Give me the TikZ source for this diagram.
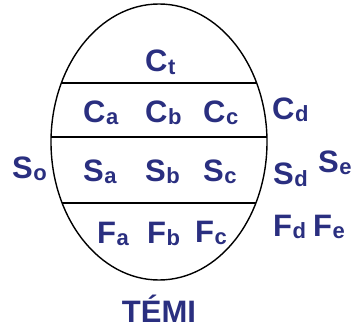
\documentclass[tikz,border=0pt]{standalone}
\usepackage{fontspec}
\setmainfont{Liberation Sans}
\definecolor{navy}{RGB}{42,47,128}
\newcommand\lbsub[2]{#1\kern0.5pt\raisebox{-2.5pt}{\fontsize{22}{22}\selectfont #2}}
\begin{document}
\begin{tikzpicture}[x=1pt,y=-1pt,
  lab/.style={anchor=base west,inner sep=0pt,text=navy,font=\fontsize{31}{31}\selectfont\bfseries},
  sep/.style={line width=1.5pt,black}]
\useasboundingbox (0,0) rectangle (351,329);
\draw[line width=1.4pt] (159,142) ellipse [x radius=108, y radius=138];
\begin{scope}
\clip (159,142) ellipse [x radius=108, y radius=138];
\draw[sep] (40,83) -- (280,83);
\draw[sep] (40,137) -- (280,137);
\draw[sep] (40,203) -- (280,203);
\end{scope}
\node[lab] (ct) at (145,72) {\lbsub{C}{t}};
\node[lab] (ca) at (83,122) {\lbsub{C}{a}};
\node[lab] (cb) at (145,122) {\lbsub{C}{b}};
\node[lab] (cc) at (203,122) {\lbsub{C}{c}};
\node[lab] (cd) at (272,119) {\lbsub{C}{d}};
\node[lab] (so) at (12,178) {\lbsub{S}{o}};
\node[lab] (sa) at (83,181) {\lbsub{S}{a}};
\node[lab] (sb) at (145,181) {\lbsub{S}{b}};
\node[lab] (sc) at (203,181) {\lbsub{S}{c}};
\node[lab] (sd) at (273,184) {\lbsub{S}{d}};
\node[lab] (se) at (318,172) {\lbsub{S}{e}};
\node[lab] (fa) at (97,243) {\lbsub{F}{a}};
\node[lab] (fb) at (147,243) {\lbsub{F}{b}};
\node[lab] (fc) at (195,242) {\lbsub{F}{c}};
\node[lab] (fd) at (273,236) {\lbsub{F}{d}};
\node[lab] (fe) at (313,236) {\lbsub{F}{e}};
\node[lab,anchor=base] (temi) at (159,322) {TÉMI};
\end{tikzpicture}
\end{document}
